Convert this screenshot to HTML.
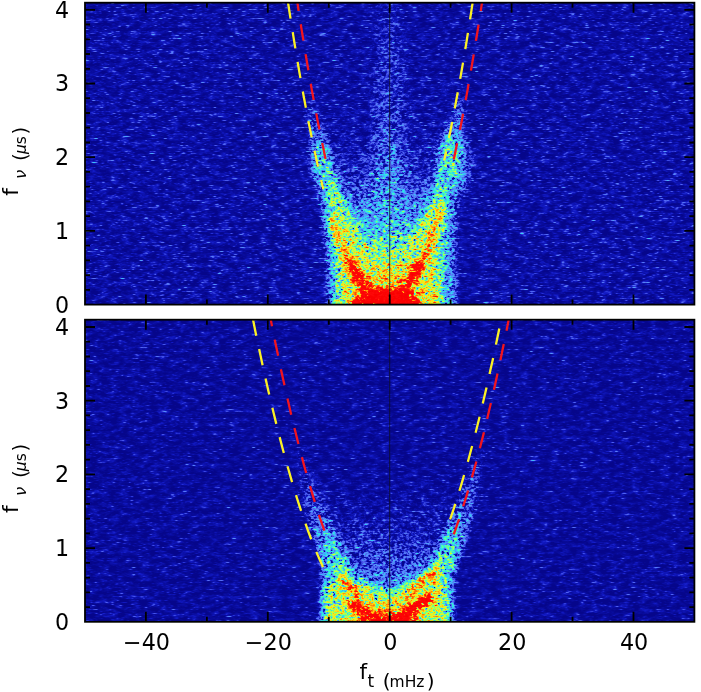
<!DOCTYPE html>
<html lang="en"><head><meta charset="utf-8"><title>Secondary spectra</title>
<style>html,body{margin:0;padding:0;background:#fff}svg{display:block}text{font-family:"DejaVu Sans", "Liberation Sans", sans-serif;fill:#000}</style></head><body>
<svg width="701" height="692" viewBox="0 0 701 692">
<defs>
<clipPath id="c1"><rect x="85.0" y="2.7" width="609.4" height="301.9"/></clipPath>
<clipPath id="c2"><rect x="85.0" y="319.7" width="609.4" height="302.1"/></clipPath>
<filter id="h1" filterUnits="userSpaceOnUse" x="85.0" y="2.7" width="609.4" height="301.9" color-interpolation-filters="sRGB">
<feTurbulence type="fractalNoise" baseFrequency="0.42 0.55" numOctaves="2" seed="7" result="t"/>
<feTurbulence type="fractalNoise" baseFrequency="0.1 0.22" numOctaves="3" seed="47" result="tl"/>
<feTurbulence type="fractalNoise" baseFrequency="0.36 0.63" numOctaves="2" seed="18" result="t2"/>
<feColorMatrix in="t" type="matrix" values="1 0 0 0 0  1 0 0 0 0  1 0 0 0 0  0 0 0 0 1" result="ns0a"/>
<feColorMatrix in="t2" type="matrix" values="1 0 0 0 0  1 0 0 0 0  1 0 0 0 0  0 0 0 0 1" result="ns0b"/>
<feComposite in="ns0a" in2="ns0b" operator="arithmetic" k1="0" k2="0.5" k3="0.5" k4="0" result="ns0"/>
<feGaussianBlur in="ns0" stdDeviation="0.8 0.8" result="tb0"/>
<feComposite in="tb0" in2="ns0" operator="arithmetic" k1="0" k2="0.7" k3="0.3" k4="0" result="tb"/>
<feColorMatrix in="tb" type="matrix" values="3.17 0 0 0 -1.085  3.17 0 0 0 -1.085  3.17 0 0 0 -1.085  0 0 0 0 1" result="ns"/>
<feComponentTransfer in="ns" result="nw2"><feFuncR type="table" tableValues="0.000 0.000 0.000 0.000 0.000 0.000 0.000 0.057 0.132 0.201 0.266 0.326 0.382 0.433 0.481 0.525 0.566 0.604 0.638 0.670 0.700 0.728 0.753 0.777 0.799 0.820 0.839 0.858 0.875 0.891 0.907 0.922 0.935 0.949 0.961 0.973 0.985 0.996 1.000 1.000 1.000"/><feFuncG type="table" tableValues="0.000 0.000 0.000 0.000 0.000 0.000 0.000 0.057 0.132 0.201 0.266 0.326 0.382 0.433 0.481 0.525 0.566 0.604 0.638 0.670 0.700 0.728 0.753 0.777 0.799 0.820 0.839 0.858 0.875 0.891 0.907 0.922 0.935 0.949 0.961 0.973 0.985 0.996 1.000 1.000 1.000"/><feFuncB type="table" tableValues="0.000 0.000 0.000 0.000 0.000 0.000 0.000 0.057 0.132 0.201 0.266 0.326 0.382 0.433 0.481 0.525 0.566 0.604 0.638 0.670 0.700 0.728 0.753 0.777 0.799 0.820 0.839 0.858 0.875 0.891 0.907 0.922 0.935 0.949 0.961 0.973 0.985 0.996 1.000 1.000 1.000"/></feComponentTransfer>
<feComponentTransfer in="SourceGraphic" result="A"><feFuncR type="table" tableValues="0.15 0.85 1 1 1 1 1 1 1"/><feFuncG type="table" tableValues="0.15 0.85 1 1 1 1 1 1 1"/><feFuncB type="table" tableValues="0.15 0.85 1 1 1 1 1 1 1"/></feComponentTransfer>
<feComposite in="nw2" in2="A" operator="arithmetic" k1="0.62" k2="0" k3="-0.434" k4="0.5" result="f"/>
<feColorMatrix in="t" type="matrix" values="0 1 0 0 0  0 1 0 0 0  0 1 0 0 0  0 0 0 0 1" result="ng"/>
<feGaussianBlur in="ng" stdDeviation="1.1 0.4" result="ngb"/>
<feColorMatrix in="ngb" type="matrix" values="2.2 0 0 0 -0.6  2.2 0 0 0 -0.6  2.2 0 0 0 -0.6  0 0 0 0 1" result="ngs"/>
<feComponentTransfer in="ngs" result="st"><feFuncR type="table" tableValues="0 0 0 0 0 0 0.05 0.2 0.45 0.72 1"/><feFuncG type="table" tableValues="0 0 0 0 0 0 0.05 0.2 0.45 0.72 1"/><feFuncB type="table" tableValues="0 0 0 0 0 0 0.05 0.2 0.45 0.72 1"/></feComponentTransfer>
<feColorMatrix in="t" type="matrix" values="0 0 1 0 0  0 0 1 0 0  0 0 1 0 0  0 0 0 0 1" result="nb"/>
<feComponentTransfer in="nb" result="sp"><feFuncR type="table" tableValues="0 0 0 0 0 0 0.02 0.2 0.6 1 1"/><feFuncG type="table" tableValues="0 0 0 0 0 0 0.02 0.2 0.6 1 1"/><feFuncB type="table" tableValues="0 0 0 0 0 0 0.02 0.2 0.6 1 1"/></feComponentTransfer>
<feGaussianBlur in="sp" stdDeviation="0.8 0.35" result="sp2"/>
<feColorMatrix in="tl" type="matrix" values="1 0 0 0 0  1 0 0 0 0  1 0 0 0 0  0 0 0 0 1" result="nl"/>
<feComposite in="SourceGraphic" in2="f" operator="arithmetic" k1="0" k2="1.25" k3="1" k4="-0.55" result="v1"/>
<feComposite in="v1" in2="st" operator="arithmetic" k1="0" k2="1" k3="0.13" k4="0" result="v2"/>
<feComposite in="v2" in2="sp2" operator="arithmetic" k1="0" k2="1" k3="0.42" k4="0" result="v3"/>
<feComposite in="v3" in2="nl" operator="arithmetic" k1="0" k2="1" k3="0.24" k4="-0.09" result="v"/>
<feComponentTransfer in="v"><feFuncR type="table" tableValues="0.024 0.031 0.039 0.055 0.071 0.157 0.244 0.315 0.322 0.329 0.308 0.245 0.182 0.176 0.209 0.258 0.373 0.487 0.621 0.760 0.869 0.935 1.000 1.000 1.000 1.000 1.000 1.000 1.000 1.000 1.000 0.998 0.996 0.994 0.992 0.990 0.988 0.986 0.984 0.982 0.980"/><feFuncG type="table" tableValues="0.027 0.039 0.051 0.076 0.102 0.199 0.295 0.388 0.465 0.542 0.625 0.716 0.807 0.877 0.935 0.982 0.990 0.998 1.000 1.000 0.980 0.931 0.882 0.777 0.672 0.563 0.437 0.311 0.203 0.121 0.039 0.035 0.031 0.027 0.024 0.020 0.016 0.012 0.008 0.004 0.000"/><feFuncB type="table" tableValues="0.549 0.588 0.627 0.698 0.769 0.830 0.892 0.944 0.958 0.972 0.980 0.980 0.980 0.931 0.850 0.758 0.627 0.497 0.379 0.265 0.176 0.127 0.078 0.064 0.050 0.039 0.039 0.039 0.039 0.039 0.039 0.035 0.031 0.027 0.024 0.020 0.016 0.012 0.008 0.004 0.000"/><feFuncA type="linear" slope="0" intercept="1"/></feComponentTransfer>
</filter><filter id="h2" filterUnits="userSpaceOnUse" x="85.0" y="319.7" width="609.4" height="302.1" color-interpolation-filters="sRGB">
<feTurbulence type="fractalNoise" baseFrequency="0.42 0.55" numOctaves="2" seed="23" result="t"/>
<feTurbulence type="fractalNoise" baseFrequency="0.1 0.22" numOctaves="3" seed="63" result="tl"/>
<feTurbulence type="fractalNoise" baseFrequency="0.36 0.63" numOctaves="2" seed="34" result="t2"/>
<feColorMatrix in="t" type="matrix" values="1 0 0 0 0  1 0 0 0 0  1 0 0 0 0  0 0 0 0 1" result="ns0a"/>
<feColorMatrix in="t2" type="matrix" values="1 0 0 0 0  1 0 0 0 0  1 0 0 0 0  0 0 0 0 1" result="ns0b"/>
<feComposite in="ns0a" in2="ns0b" operator="arithmetic" k1="0" k2="0.5" k3="0.5" k4="0" result="ns0"/>
<feGaussianBlur in="ns0" stdDeviation="0.8 0.8" result="tb0"/>
<feComposite in="tb0" in2="ns0" operator="arithmetic" k1="0" k2="0.7" k3="0.3" k4="0" result="tb"/>
<feColorMatrix in="tb" type="matrix" values="3.17 0 0 0 -1.085  3.17 0 0 0 -1.085  3.17 0 0 0 -1.085  0 0 0 0 1" result="ns"/>
<feComponentTransfer in="ns" result="nw2"><feFuncR type="table" tableValues="0.000 0.000 0.000 0.000 0.000 0.000 0.000 0.057 0.132 0.201 0.266 0.326 0.382 0.433 0.481 0.525 0.566 0.604 0.638 0.670 0.700 0.728 0.753 0.777 0.799 0.820 0.839 0.858 0.875 0.891 0.907 0.922 0.935 0.949 0.961 0.973 0.985 0.996 1.000 1.000 1.000"/><feFuncG type="table" tableValues="0.000 0.000 0.000 0.000 0.000 0.000 0.000 0.057 0.132 0.201 0.266 0.326 0.382 0.433 0.481 0.525 0.566 0.604 0.638 0.670 0.700 0.728 0.753 0.777 0.799 0.820 0.839 0.858 0.875 0.891 0.907 0.922 0.935 0.949 0.961 0.973 0.985 0.996 1.000 1.000 1.000"/><feFuncB type="table" tableValues="0.000 0.000 0.000 0.000 0.000 0.000 0.000 0.057 0.132 0.201 0.266 0.326 0.382 0.433 0.481 0.525 0.566 0.604 0.638 0.670 0.700 0.728 0.753 0.777 0.799 0.820 0.839 0.858 0.875 0.891 0.907 0.922 0.935 0.949 0.961 0.973 0.985 0.996 1.000 1.000 1.000"/></feComponentTransfer>
<feComponentTransfer in="SourceGraphic" result="A"><feFuncR type="table" tableValues="0.15 0.85 1 1 1 1 1 1 1"/><feFuncG type="table" tableValues="0.15 0.85 1 1 1 1 1 1 1"/><feFuncB type="table" tableValues="0.15 0.85 1 1 1 1 1 1 1"/></feComponentTransfer>
<feComposite in="nw2" in2="A" operator="arithmetic" k1="0.62" k2="0" k3="-0.434" k4="0.5" result="f"/>
<feColorMatrix in="t" type="matrix" values="0 1 0 0 0  0 1 0 0 0  0 1 0 0 0  0 0 0 0 1" result="ng"/>
<feGaussianBlur in="ng" stdDeviation="1.1 0.4" result="ngb"/>
<feColorMatrix in="ngb" type="matrix" values="2.2 0 0 0 -0.6  2.2 0 0 0 -0.6  2.2 0 0 0 -0.6  0 0 0 0 1" result="ngs"/>
<feComponentTransfer in="ngs" result="st"><feFuncR type="table" tableValues="0 0 0 0 0 0 0.05 0.2 0.45 0.72 1"/><feFuncG type="table" tableValues="0 0 0 0 0 0 0.05 0.2 0.45 0.72 1"/><feFuncB type="table" tableValues="0 0 0 0 0 0 0.05 0.2 0.45 0.72 1"/></feComponentTransfer>
<feColorMatrix in="t" type="matrix" values="0 0 1 0 0  0 0 1 0 0  0 0 1 0 0  0 0 0 0 1" result="nb"/>
<feComponentTransfer in="nb" result="sp"><feFuncR type="table" tableValues="0 0 0 0 0 0 0.02 0.2 0.6 1 1"/><feFuncG type="table" tableValues="0 0 0 0 0 0 0.02 0.2 0.6 1 1"/><feFuncB type="table" tableValues="0 0 0 0 0 0 0.02 0.2 0.6 1 1"/></feComponentTransfer>
<feGaussianBlur in="sp" stdDeviation="0.8 0.35" result="sp2"/>
<feColorMatrix in="tl" type="matrix" values="1 0 0 0 0  1 0 0 0 0  1 0 0 0 0  0 0 0 0 1" result="nl"/>
<feComposite in="SourceGraphic" in2="f" operator="arithmetic" k1="0" k2="1.25" k3="1" k4="-0.55" result="v1"/>
<feComposite in="v1" in2="st" operator="arithmetic" k1="0" k2="1" k3="0.09" k4="0" result="v2"/>
<feComposite in="v2" in2="sp2" operator="arithmetic" k1="0" k2="1" k3="0.34" k4="0" result="v3"/>
<feComposite in="v3" in2="nl" operator="arithmetic" k1="0" k2="1" k3="0.24" k4="-0.1" result="v"/>
<feComponentTransfer in="v"><feFuncR type="table" tableValues="0.024 0.031 0.039 0.055 0.071 0.157 0.244 0.315 0.322 0.329 0.308 0.245 0.182 0.176 0.209 0.258 0.373 0.487 0.621 0.760 0.869 0.935 1.000 1.000 1.000 1.000 1.000 1.000 1.000 1.000 1.000 0.998 0.996 0.994 0.992 0.990 0.988 0.986 0.984 0.982 0.980"/><feFuncG type="table" tableValues="0.027 0.039 0.051 0.076 0.102 0.199 0.295 0.388 0.465 0.542 0.625 0.716 0.807 0.877 0.935 0.982 0.990 0.998 1.000 1.000 0.980 0.931 0.882 0.777 0.672 0.563 0.437 0.311 0.203 0.121 0.039 0.035 0.031 0.027 0.024 0.020 0.016 0.012 0.008 0.004 0.000"/><feFuncB type="table" tableValues="0.549 0.588 0.627 0.698 0.769 0.830 0.892 0.944 0.958 0.972 0.980 0.980 0.980 0.931 0.850 0.758 0.627 0.497 0.379 0.265 0.176 0.127 0.078 0.064 0.050 0.039 0.039 0.039 0.039 0.039 0.039 0.035 0.031 0.027 0.024 0.020 0.016 0.012 0.008 0.004 0.000"/><feFuncA type="linear" slope="0" intercept="1"/></feComponentTransfer>
</filter><filter id="b2_5" filterUnits="userSpaceOnUse" x="0" y="-40" width="701" height="780" color-interpolation-filters="sRGB"><feGaussianBlur stdDeviation="2.5"/></filter><filter id="b3" filterUnits="userSpaceOnUse" x="0" y="-40" width="701" height="780" color-interpolation-filters="sRGB"><feGaussianBlur stdDeviation="3"/></filter><filter id="b3_5" filterUnits="userSpaceOnUse" x="0" y="-40" width="701" height="780" color-interpolation-filters="sRGB"><feGaussianBlur stdDeviation="3.5"/></filter><filter id="b4" filterUnits="userSpaceOnUse" x="0" y="-40" width="701" height="780" color-interpolation-filters="sRGB"><feGaussianBlur stdDeviation="4"/></filter><filter id="b5" filterUnits="userSpaceOnUse" x="0" y="-40" width="701" height="780" color-interpolation-filters="sRGB"><feGaussianBlur stdDeviation="5"/></filter><filter id="b6" filterUnits="userSpaceOnUse" x="0" y="-40" width="701" height="780" color-interpolation-filters="sRGB"><feGaussianBlur stdDeviation="6"/></filter><filter id="b7" filterUnits="userSpaceOnUse" x="0" y="-40" width="701" height="780" color-interpolation-filters="sRGB"><feGaussianBlur stdDeviation="7"/></filter><filter id="b8" filterUnits="userSpaceOnUse" x="0" y="-40" width="701" height="780" color-interpolation-filters="sRGB"><feGaussianBlur stdDeviation="8"/></filter><filter id="b9" filterUnits="userSpaceOnUse" x="0" y="-40" width="701" height="780" color-interpolation-filters="sRGB"><feGaussianBlur stdDeviation="9"/></filter><linearGradient id="g1" gradientUnits="userSpaceOnUse" x1="0" y1="0.0" x2="0" y2="304.0"><stop offset="0.000" stop-color="#0f0f0f"/><stop offset="0.493" stop-color="#161616"/><stop offset="1.000" stop-color="#232323"/></linearGradient><linearGradient id="g2" gradientUnits="userSpaceOnUse" x1="0" y1="0.0" x2="0" y2="304.0"><stop offset="0.000" stop-color="#000000" stop-opacity="0.00"/><stop offset="0.296" stop-color="#060606" stop-opacity="0.30"/><stop offset="0.493" stop-color="#272727"/><stop offset="1.000" stop-color="#333333"/></linearGradient><linearGradient id="g3" gradientUnits="userSpaceOnUse" x1="0" y1="150.0" x2="0" y2="310.0"><stop offset="0.000" stop-color="#1f1f1f" stop-opacity="0.00"/><stop offset="0.188" stop-color="#2f2f2f"/><stop offset="1.000" stop-color="#333333"/></linearGradient><linearGradient id="g4" gradientUnits="userSpaceOnUse" x1="0" y1="140.0" x2="0" y2="310.0"><stop offset="0.000" stop-color="#1f1f1f" stop-opacity="0.00"/><stop offset="0.176" stop-color="#313131"/><stop offset="1.000" stop-color="#333333"/></linearGradient><linearGradient id="g5" gradientUnits="userSpaceOnUse" x1="0" y1="0.0" x2="0" y2="304.0"><stop offset="0.000" stop-color="#040404"/><stop offset="0.164" stop-color="#060606"/><stop offset="0.296" stop-color="#090909"/><stop offset="0.395" stop-color="#101010"/><stop offset="0.477" stop-color="#3d3d3d"/><stop offset="0.592" stop-color="#545454"/><stop offset="0.724" stop-color="#5c5c5c"/><stop offset="0.855" stop-color="#626262"/><stop offset="1.000" stop-color="#646464"/></linearGradient><linearGradient id="g6" gradientUnits="userSpaceOnUse" x1="0" y1="0.0" x2="0" y2="276.0"><stop offset="0.000" stop-color="#040404"/><stop offset="0.181" stop-color="#060606"/><stop offset="0.326" stop-color="#080808"/><stop offset="0.471" stop-color="#0a0a0a"/><stop offset="0.652" stop-color="#161616"/><stop offset="0.797" stop-color="#333333"/><stop offset="0.906" stop-color="#545454"/><stop offset="1.000" stop-color="#707070"/></linearGradient><linearGradient id="g7" gradientUnits="userSpaceOnUse" x1="0" y1="0.0" x2="0" y2="240.0"><stop offset="0.000" stop-color="#131313"/><stop offset="0.542" stop-color="#212121"/><stop offset="0.833" stop-color="#373737"/><stop offset="1.000" stop-color="#474747" stop-opacity="0.00"/></linearGradient><linearGradient id="g8" gradientUnits="userSpaceOnUse" x1="0" y1="76.1" x2="0" y2="157.2"><stop offset="0.000" stop-color="#0a0a0a" stop-opacity="0.00"/><stop offset="0.455" stop-color="#1b1b1b"/><stop offset="1.000" stop-color="#3b3b3b"/></linearGradient><linearGradient id="g9" gradientUnits="userSpaceOnUse" x1="0" y1="68.8" x2="0" y2="149.8"><stop offset="0.000" stop-color="#0a0a0a" stop-opacity="0.00"/><stop offset="0.455" stop-color="#1d1d1d"/><stop offset="1.000" stop-color="#414141"/></linearGradient><linearGradient id="g10" gradientUnits="userSpaceOnUse" x1="0" y1="219.0" x2="0" y2="293.0"><stop offset="0.000" stop-color="#787878"/><stop offset="0.554" stop-color="#858585"/><stop offset="1.000" stop-color="#959595"/></linearGradient><linearGradient id="g11" gradientUnits="userSpaceOnUse" x1="0" y1="209.0" x2="0" y2="274.0"><stop offset="0.000" stop-color="#787878"/><stop offset="1.000" stop-color="#919191"/></linearGradient><linearGradient id="g12" gradientUnits="userSpaceOnUse" x1="0" y1="319.0" x2="0" y2="621.0"><stop offset="0.000" stop-color="#000000" stop-opacity="0.00"/><stop offset="0.434" stop-color="#060606" stop-opacity="0.30"/><stop offset="0.699" stop-color="#141414"/><stop offset="0.864" stop-color="#1f1f1f"/><stop offset="1.000" stop-color="#2f2f2f"/></linearGradient><linearGradient id="g13" gradientUnits="userSpaceOnUse" x1="0" y1="319.0" x2="0" y2="621.0"><stop offset="0.000" stop-color="#030303"/><stop offset="0.268" stop-color="#040404"/><stop offset="0.500" stop-color="#060606"/><stop offset="0.666" stop-color="#101010"/><stop offset="0.798" stop-color="#1f1f1f"/><stop offset="0.864" stop-color="#2b2b2b"/><stop offset="0.921" stop-color="#414141"/><stop offset="1.000" stop-color="#5c5c5c"/></linearGradient><linearGradient id="g14" gradientUnits="userSpaceOnUse" x1="0" y1="415.4" x2="0" y2="576.1"><stop offset="0.000" stop-color="#0a0a0a" stop-opacity="0.00"/><stop offset="0.367" stop-color="#141414"/><stop offset="0.596" stop-color="#212121"/><stop offset="0.734" stop-color="#2d2d2d"/><stop offset="0.872" stop-color="#3d3d3d"/><stop offset="1.000" stop-color="#545454"/></linearGradient><linearGradient id="g15" gradientUnits="userSpaceOnUse" x1="0" y1="408.1" x2="0" y2="570.2"><stop offset="0.000" stop-color="#0a0a0a" stop-opacity="0.00"/><stop offset="0.364" stop-color="#141414"/><stop offset="0.591" stop-color="#212121"/><stop offset="0.727" stop-color="#2d2d2d"/><stop offset="0.909" stop-color="#414141"/><stop offset="1.000" stop-color="#585858"/></linearGradient><linearGradient id="g16" gradientUnits="userSpaceOnUse" x1="0" y1="515.0" x2="0" y2="571.0"><stop offset="0.000" stop-color="#474747" stop-opacity="0.00"/><stop offset="0.536" stop-color="#474747"/><stop offset="1.000" stop-color="#5c5c5c"/></linearGradient><linearGradient id="g17" gradientUnits="userSpaceOnUse" x1="0" y1="512.0" x2="0" y2="567.0"><stop offset="0.000" stop-color="#474747" stop-opacity="0.00"/><stop offset="0.545" stop-color="#4b4b4b"/><stop offset="1.000" stop-color="#606060"/></linearGradient>
</defs>
<rect width="701" height="692" fill="#fff"/>
<g filter="url(#h1)"><rect x="80.0" y="-2.3" width="619.4" height="311.9" fill="#000000"/>
<path d="M373.0 -10.0 L405.0 -10.0 L407.0 320.0 L370.0 320.0Z" fill="url(#g1)" filter="url(#b8)" />
<path d="M289.2 -19.7 L290.8 -8.5 L292.5 2.4 L294.1 13.1 L295.8 23.7 L297.5 34.0 L299.1 44.2 L300.8 54.2 L302.4 63.9 L304.1 73.5 L305.7 82.9 L307.4 92.1 L309.1 101.1 L310.7 109.9 L312.4 118.5 L314.0 126.9 L315.7 135.1 L317.3 143.1 L319.0 151.0 L320.6 158.6 L322.3 166.0 L329.0 212.0 L334.0 255.0 L337.0 320.0 L444.0 320.0 L442.0 271.0 L443.0 235.0 L445.0 200.0 L448.9 164.6 L450.5 157.2 L452.2 149.6 L453.8 141.8 L455.5 133.8 L457.1 125.7 L458.7 117.3 L460.4 108.8 L462.0 100.0 L463.7 91.1 L465.3 82.0 L466.9 72.7 L468.6 63.2 L470.2 53.5 L471.9 43.6 L473.5 33.5 L475.1 23.3 L476.8 12.8 L478.4 2.2 L480.1 -8.7 L481.7 -19.7Z" fill="url(#g2)" filter="url(#b9)" />
<ellipse cx="460.0" cy="165.0" rx="13.0" ry="30.0" fill="#252525" filter="url(#b6)" />
<path d="M318.0 150.0 L321.0 170.0 L327.0 212.0 L332.0 255.0 L335.0 310.0" fill="none" stroke="url(#g3)" stroke-width="10.0" stroke-linecap="round" stroke-linejoin="round" filter="url(#b4)" />
<path d="M458.0 150.0 L454.0 170.0 L449.0 200.0 L447.0 235.0 L446.0 271.0 L448.0 310.0" fill="none" stroke="url(#g4)" stroke-width="18.0" stroke-linecap="round" stroke-linejoin="round" filter="url(#b5)" />
<path d="M289.2 -19.7 L290.8 -8.5 L292.5 2.4 L294.1 13.1 L295.8 23.7 L297.5 34.0 L299.1 44.2 L300.8 54.2 L302.4 63.9 L304.1 73.5 L305.7 82.9 L307.4 92.1 L309.1 101.1 L310.7 109.9 L312.4 118.5 L314.0 126.9 L315.7 135.1 L317.3 143.1 L319.0 151.0 L320.6 158.6 L322.3 166.0 L329.0 212.0 L334.0 255.0 L337.0 320.0 L444.0 320.0 L442.0 271.0 L443.0 235.0 L445.0 200.0 L448.9 164.6 L450.5 157.2 L452.2 149.6 L453.8 141.8 L455.5 133.8 L457.1 125.7 L458.7 117.3 L460.4 108.8 L462.0 100.0 L463.7 91.1 L465.3 82.0 L466.9 72.7 L468.6 63.2 L470.2 53.5 L471.9 43.6 L473.5 33.5 L475.1 23.3 L476.8 12.8 L478.4 2.2 L480.1 -8.7 L481.7 -19.7Z" fill="url(#g5)" filter="url(#b4)" />
<path d="M297.7 -19.7 L299.0 -11.0 L300.3 -2.5 L301.6 6.0 L302.9 14.3 L304.1 22.5 L305.4 30.6 L306.7 38.5 L308.0 46.4 L309.3 54.1 L310.6 61.7 L311.9 69.2 L313.2 76.6 L314.4 83.9 L315.7 91.0 L317.0 98.0 L318.3 104.9 L319.6 111.7 L320.9 118.4 L322.2 125.0 L323.5 131.4 L340.0 190.0 L362.0 235.0 L384.0 276.0 L394.0 276.0 L412.0 235.0 L434.0 190.0 L446.8 131.4 L448.1 125.0 L449.4 118.4 L450.7 111.7 L452.0 104.9 L453.2 98.0 L454.5 91.0 L455.8 83.9 L457.1 76.6 L458.4 69.2 L459.7 61.7 L461.0 54.1 L462.3 46.4 L463.5 38.5 L464.8 30.6 L466.1 22.5 L467.4 14.3 L468.7 6.0 L470.0 -2.5 L471.3 -11.0 L472.6 -19.7Z" fill="url(#g6)" filter="url(#b4)" />
<path d="M375.0 -10.0 L403.0 -10.0 L405.0 240.0 L372.0 240.0Z" fill="url(#g7)" filter="url(#b7)" opacity="0.85"/>
<path d="M303.3 76.1 L304.1 80.6 L304.9 85.0 L305.7 89.4 L306.5 93.8 L307.3 98.1 L308.1 102.3 L308.8 106.5 L309.6 110.7 L310.4 114.8 L311.2 118.9 L312.0 122.9 L312.8 126.9 L313.6 130.8 L314.4 134.7 L315.2 138.6 L316.0 142.4 L316.7 146.2 L317.5 149.9 L318.3 153.6 L319.1 157.2" fill="none" stroke="url(#g8)" stroke-width="9.0" stroke-linecap="round" stroke-linejoin="round" filter="url(#b4)" />
<path d="M467.6 68.8 L466.8 73.2 L466.1 77.6 L465.3 82.0 L464.5 86.3 L463.7 90.6 L463.0 94.9 L462.2 99.1 L461.4 103.2 L460.6 107.3 L459.9 111.4 L459.1 115.5 L458.3 119.4 L457.5 123.4 L456.8 127.3 L456.0 131.2 L455.2 135.0 L454.4 138.8 L453.7 142.5 L452.9 146.2 L452.1 149.8" fill="none" stroke="url(#g9)" stroke-width="11.0" stroke-linecap="round" stroke-linejoin="round" filter="url(#b4)" />
<ellipse cx="451.0" cy="156.0" rx="8.0" ry="24.0" fill="#4e4e4e" filter="url(#b6)" />
<ellipse cx="318.0" cy="164.0" rx="6.0" ry="17.0" fill="#454545" filter="url(#b6)" />
<ellipse cx="388.0" cy="302.0" rx="40.0" ry="32.0" fill="#747474" filter="url(#b7)" />
<path d="M331.0 219.0 L341.8 245.0 L351.0 266.5 L364.4 292.7" fill="none" stroke="url(#g10)" stroke-width="7.0" stroke-linecap="round" stroke-linejoin="round" filter="url(#b2_5)" />
<path d="M442.0 209.0 L431.0 235.0 L425.0 259.0 L416.0 274.0" fill="none" stroke="url(#g11)" stroke-width="7.0" stroke-linecap="round" stroke-linejoin="round" filter="url(#b2_5)" />
<path d="M351.0 264.0 L374.0 298.0" fill="none" stroke="#a9a9a9" stroke-width="8.0" stroke-linecap="round" stroke-linejoin="round" filter="url(#b3)" />
<path d="M418.0 266.0 L401.0 298.0" fill="none" stroke="#a9a9a9" stroke-width="10.0" stroke-linecap="round" stroke-linejoin="round" filter="url(#b3)" />
<ellipse cx="387.0" cy="308.0" rx="34.0" ry="18.0" fill="#c6c6c6" filter="url(#b4)" /></g>
<g filter="url(#h2)"><rect x="80.0" y="314.7" width="619.4" height="312.1" fill="#000000"/>
<path d="M253.1 297.5 L256.9 317.5 L260.8 336.8 L264.6 355.4 L268.5 373.5 L272.3 390.9 L276.2 407.7 L280.0 423.8 L283.9 439.3 L287.7 454.2 L291.5 468.4 L295.4 482.1 L299.2 495.0 L303.1 507.4 L306.9 519.1 L310.8 530.2 L314.6 540.6 L318.5 550.4 L322.3 559.6 L326.2 568.2 L330.0 576.1 L326.0 592.0 L327.0 640.0 L449.0 640.0 L448.0 588.0 L446.2 570.2 L449.9 562.1 L453.6 553.5 L457.3 544.2 L461.0 534.4 L464.7 524.0 L468.4 513.0 L472.1 501.4 L475.8 489.3 L479.5 476.5 L483.2 463.2 L486.9 449.2 L490.6 434.7 L494.3 419.6 L498.0 403.9 L501.7 387.7 L505.4 370.8 L509.1 353.4 L512.8 335.3 L516.5 316.7 L520.2 297.5Z" fill="url(#g12)" filter="url(#b9)" />
<path d="M253.1 297.5 L256.9 317.5 L260.8 336.8 L264.6 355.4 L268.5 373.5 L272.3 390.9 L276.2 407.7 L280.0 423.8 L283.9 439.3 L287.7 454.2 L291.5 468.4 L295.4 482.1 L299.2 495.0 L303.1 507.4 L306.9 519.1 L310.8 530.2 L314.6 540.6 L318.5 550.4 L322.3 559.6 L326.2 568.2 L330.0 576.1 L326.0 592.0 L327.0 640.0 L449.0 640.0 L448.0 588.0 L446.2 570.2 L449.9 562.1 L453.6 553.5 L457.3 544.2 L461.0 534.4 L464.7 524.0 L468.4 513.0 L472.1 501.4 L475.8 489.3 L479.5 476.5 L483.2 463.2 L486.9 449.2 L490.6 434.7 L494.3 419.6 L498.0 403.9 L501.7 387.7 L505.4 370.8 L509.1 353.4 L512.8 335.3 L516.5 316.7 L520.2 297.5Z" fill="url(#g13)" filter="url(#b3_5)" />
<path d="M327.0 566.0 L326.0 590.0 L327.0 630.0" fill="none" stroke="#333333" stroke-width="10.0" stroke-linecap="round" stroke-linejoin="round" filter="url(#b4)" />
<path d="M448.0 560.0 L447.0 590.0 L447.0 630.0" fill="none" stroke="#333333" stroke-width="12.0" stroke-linecap="round" stroke-linejoin="round" filter="url(#b4)" />
<path d="M285.9 415.4 L287.1 422.1 L288.3 428.8 L289.6 435.5 L290.9 442.2 L292.2 448.9 L293.6 455.6 L294.9 462.3 L296.4 469.0 L297.8 475.7 L299.4 482.4 L300.9 489.1 L302.5 495.8 L304.2 502.5 L305.9 509.2 L307.7 515.9 L309.5 522.6 L311.5 529.2 L313.5 535.9 L315.6 542.6 L317.8 549.3 L320.2 556.0 L322.7 562.7 L325.3 569.4 L328.2 576.1 L356.2 576.1 L352.6 569.4 L349.1 562.7 L345.8 556.0 L342.6 549.3 L339.6 542.6 L336.6 535.9 L333.8 529.2 L331.1 522.6 L328.4 515.9 L325.8 509.2 L323.3 502.5 L320.8 495.8 L318.4 489.1 L316.0 482.4 L313.7 475.7 L311.4 469.0 L309.2 462.3 L307.0 455.6 L304.8 448.9 L302.7 442.2 L300.6 435.5 L298.5 428.8 L296.5 422.1 L294.4 415.4Z" fill="url(#g14)" filter="url(#b3_5)" />
<path d="M495.8 408.1 L494.7 414.8 L493.4 421.6 L492.2 428.3 L490.9 435.1 L489.6 441.8 L488.3 448.6 L486.9 455.4 L485.5 462.1 L484.1 468.9 L482.6 475.6 L481.1 482.4 L479.5 489.1 L477.9 495.9 L476.2 502.7 L474.4 509.4 L472.6 516.2 L470.7 522.9 L468.8 529.7 L466.7 536.4 L464.6 543.2 L462.3 549.9 L459.9 556.7 L457.4 563.5 L454.7 570.2 L426.7 570.2 L430.2 563.5 L433.5 556.7 L436.7 549.9 L439.8 543.2 L442.8 536.4 L445.6 529.7 L448.4 522.9 L451.1 516.2 L453.7 509.4 L456.3 502.7 L458.8 495.9 L461.2 489.1 L463.6 482.4 L465.9 475.6 L468.2 468.9 L470.5 462.1 L472.7 455.4 L474.9 448.6 L477.0 441.8 L479.1 435.1 L481.2 428.3 L483.3 421.6 L485.3 414.8 L487.3 408.1Z" fill="url(#g15)" filter="url(#b3_5)" />
<path d="M321.0 515.0 L327.0 532.0 L333.0 551.0 L341.0 571.0" fill="none" stroke="url(#g16)" stroke-width="6.0" stroke-linecap="round" stroke-linejoin="round" filter="url(#b3)" />
<path d="M461.0 512.0 L454.0 530.0 L447.0 550.0 L441.0 567.0" fill="none" stroke="url(#g17)" stroke-width="7.0" stroke-linecap="round" stroke-linejoin="round" filter="url(#b3)" />
<path d="M326.0 588.0 L330.0 578.0 L352.0 577.0 L390.0 594.0 L424.0 572.0 L444.0 572.0 L448.0 586.0 L449.0 640.0 L323.0 640.0Z" fill="#646464" filter="url(#b4)" />
<path d="M342.0 579.0 L367.0 606.0" fill="none" stroke="#898989" stroke-width="7.0" stroke-linecap="round" stroke-linejoin="round" filter="url(#b2_5)" />
<path d="M437.0 572.0 L428.0 576.0 L415.0 590.0 L405.0 601.0" fill="none" stroke="#898989" stroke-width="7.0" stroke-linecap="round" stroke-linejoin="round" filter="url(#b2_5)" />
<ellipse cx="388.0" cy="615.0" rx="36.0" ry="11.0" fill="#7a7a7a" filter="url(#b5)" />
<path d="M351.0 604.0 L378.0 620.0" fill="none" stroke="#b6b6b6" stroke-width="7.0" stroke-linecap="round" stroke-linejoin="round" filter="url(#b2_5)" />
<path d="M429.0 598.0 L401.0 617.0" fill="none" stroke="#bababa" stroke-width="9.0" stroke-linecap="round" stroke-linejoin="round" filter="url(#b2_5)" />
<ellipse cx="388.0" cy="627.0" rx="34.0" ry="10.0" fill="#cacaca" filter="url(#b4)" /></g>
<path d="M389.7 2.7V304.6 M389.7 319.7V621.8" stroke="#101020" stroke-width="1" opacity=".8" fill="none"/>
<g id="arcs">
<path d="M297.4 2.4 L298.5 10.1 L299.7 17.7 L300.9 25.2 L302.1 32.6 L303.3 39.8 L304.5 47.0 L305.6 54.1 L306.8 61.1 L308.0 68.0 L309.2 74.8 L310.4 81.5 L311.5 88.1 L312.7 94.6 L313.9 101.0 L315.1 107.3 L316.3 113.5 L317.4 119.6 L318.6 125.6 L319.8 131.5 L321.0 137.3 L322.2 143.0 L323.4 148.6 L324.5 154.1 L325.7 159.5" fill="none" stroke="#f2141e" stroke-width="2.3" stroke-dasharray="16.5 13.65" stroke-dashoffset="8.0" clip-path="url(#c1)"/>
<path d="M482.0 2.4 L480.9 10.1 L479.7 17.7 L478.5 25.2 L477.3 32.6 L476.1 39.8 L474.9 47.0 L473.8 54.1 L472.6 61.1 L471.4 68.0 L470.2 74.8 L469.0 81.5 L467.9 88.1 L466.7 94.6 L465.5 101.0 L464.3 107.3 L463.1 113.5 L462.0 119.6 L460.8 125.6 L459.6 131.5 L458.4 137.3 L457.2 143.0 L456.0 148.6 L454.9 154.1 L453.7 159.5" fill="none" stroke="#f2141e" stroke-width="2.3" stroke-dasharray="16.5 13.65" stroke-dashoffset="7.7" clip-path="url(#c1)"/>
<path d="M288.0 2.4 L289.5 12.0 L291.0 21.4 L292.5 30.6 L293.9 39.7 L295.4 48.6 L296.9 57.4 L298.3 66.0 L299.8 74.5 L301.3 82.8 L302.7 91.0 L304.2 99.0 L305.7 106.9 L307.2 114.6 L308.6 122.2 L310.1 129.6 L311.6 136.8 L313.0 143.9 L314.5 150.8 L316.0 157.6 L317.5 164.3 L318.9 170.8 L320.4 177.1 L321.9 183.3 L323.3 189.3" fill="none" stroke="#fbf024" stroke-width="2.3" stroke-dasharray="16.5 13.65" stroke-dashoffset="0.1" clip-path="url(#c1)"/>
<path d="M472.7 2.4 L471.5 10.2 L470.3 17.8 L469.1 25.4 L467.9 32.8 L466.8 40.2 L465.6 47.4 L464.4 54.5 L463.2 61.6 L462.0 68.5 L460.8 75.4 L459.6 82.1 L458.4 88.7 L457.2 95.3 L456.0 101.7 L454.8 108.1 L453.6 114.3 L452.5 120.4 L451.3 126.5 L450.1 132.4 L448.9 138.2 L447.7 144.0 L446.5 149.6 L445.3 155.2 L444.1 160.6" fill="none" stroke="#fbf024" stroke-width="2.3" stroke-dasharray="16.5 13.65" stroke-dashoffset="29.5" clip-path="url(#c1)"/>
<path d="M270.7 319.6 L273.0 330.9 L275.2 342.0 L277.5 352.8 L279.7 363.4 L281.9 373.8 L284.2 384.0 L286.4 394.0 L288.7 403.8 L290.9 413.4 L293.1 422.7 L295.4 431.8 L297.6 440.7 L299.9 449.4 L302.1 457.9 L304.3 466.2 L306.6 474.3 L308.8 482.1 L311.1 489.7 L313.3 497.1 L315.5 504.3 L317.8 511.3 L320.0 518.1 L322.3 524.7 L324.5 531.0" fill="none" stroke="#f2141e" stroke-width="2.3" stroke-dasharray="16.5 13.65" stroke-dashoffset="9.7" clip-path="url(#c2)"/>
<path d="M508.7 319.6 L506.4 331.2 L504.1 342.5 L501.8 353.5 L499.5 364.4 L497.2 375.0 L494.9 385.4 L492.6 395.6 L490.3 405.5 L488.0 415.3 L485.8 424.8 L483.5 434.1 L481.2 443.1 L478.9 452.0 L476.6 460.6 L474.3 469.0 L472.0 477.1 L469.7 485.1 L467.4 492.8 L465.1 500.3 L462.8 507.5 L460.6 514.6 L458.3 521.4 L456.0 528.0 L453.7 534.4" fill="none" stroke="#f2141e" stroke-width="2.3" stroke-dasharray="16.5 13.65" stroke-dashoffset="5.2" clip-path="url(#c2)"/>
<path d="M253.0 319.6 L255.9 333.9 L258.9 347.9 L261.8 361.5 L264.7 374.7 L267.6 387.6 L270.5 400.2 L273.5 412.4 L276.4 424.3 L279.3 435.8 L282.2 447.0 L285.1 457.8 L288.1 468.3 L291.0 478.4 L293.9 488.2 L296.8 497.6 L299.7 506.7 L302.7 515.5 L305.6 523.9 L308.5 532.0 L311.4 539.7 L314.3 547.0 L317.3 554.1 L320.2 560.7 L323.1 567.1" fill="none" stroke="#fbf024" stroke-width="2.3" stroke-dasharray="16.5 13.65" stroke-dashoffset="0.1" clip-path="url(#c2)"/>
<path d="M501.1 319.6 L499.0 330.1 L496.8 340.4 L494.7 350.5 L492.6 360.4 L490.4 370.1 L488.3 379.7 L486.2 389.1 L484.0 398.2 L481.9 407.2 L479.8 416.0 L477.6 424.7 L475.5 433.1 L473.4 441.4 L471.2 449.4 L469.1 457.3 L467.0 465.0 L464.8 472.5 L462.7 479.9 L460.6 487.0 L458.4 494.0 L456.3 500.8 L454.2 507.4 L452.0 513.8 L449.9 520.0" fill="none" stroke="#fbf024" stroke-width="2.3" stroke-dasharray="16.5 13.65" stroke-dashoffset="21.1" clip-path="url(#c2)"/>
</g>
<g fill="none" stroke="#000" stroke-width="1.8">
<rect x="85.0" y="2.7" width="609.4" height="301.9"/>
<rect x="85.0" y="319.7" width="609.4" height="302.1"/>
<path d="M145.9 2.7v10 M145.9 304.6v-10"/>
<path d="M206.9 2.7v5 M206.9 304.6v-5"/>
<path d="M267.8 2.7v10 M267.8 304.6v-10"/>
<path d="M328.8 2.7v5 M328.8 304.6v-5"/>
<path d="M389.7 2.7v10 M389.7 304.6v-10"/>
<path d="M450.6 2.7v5 M450.6 304.6v-5"/>
<path d="M511.6 2.7v10 M511.6 304.6v-10"/>
<path d="M572.5 2.7v5 M572.5 304.6v-5"/>
<path d="M633.5 2.7v10 M633.5 304.6v-10"/>
<path d="M85.0 289.9h5 M694.4 289.9h-5"/>
<path d="M85.0 275.1h5 M694.4 275.1h-5"/>
<path d="M85.0 260.4h5 M694.4 260.4h-5"/>
<path d="M85.0 245.6h5 M694.4 245.6h-5"/>
<path d="M85.0 230.9h10 M694.4 230.9h-10"/>
<path d="M85.0 216.2h5 M694.4 216.2h-5"/>
<path d="M85.0 201.4h5 M694.4 201.4h-5"/>
<path d="M85.0 186.7h5 M694.4 186.7h-5"/>
<path d="M85.0 171.9h5 M694.4 171.9h-5"/>
<path d="M85.0 157.2h10 M694.4 157.2h-10"/>
<path d="M85.0 142.5h5 M694.4 142.5h-5"/>
<path d="M85.0 127.7h5 M694.4 127.7h-5"/>
<path d="M85.0 113.0h5 M694.4 113.0h-5"/>
<path d="M85.0 98.2h5 M694.4 98.2h-5"/>
<path d="M85.0 83.5h10 M694.4 83.5h-10"/>
<path d="M85.0 68.8h5 M694.4 68.8h-5"/>
<path d="M85.0 54.0h5 M694.4 54.0h-5"/>
<path d="M85.0 39.3h5 M694.4 39.3h-5"/>
<path d="M85.0 24.5h5 M694.4 24.5h-5"/>
<path d="M85.0 9.8h10 M694.4 9.8h-10"/>
<path d="M145.9 319.7v10 M145.9 621.8v-10"/>
<path d="M206.9 319.7v5 M206.9 621.8v-5"/>
<path d="M267.8 319.7v10 M267.8 621.8v-10"/>
<path d="M328.8 319.7v5 M328.8 621.8v-5"/>
<path d="M389.7 319.7v10 M389.7 621.8v-10"/>
<path d="M450.6 319.7v5 M450.6 621.8v-5"/>
<path d="M511.6 319.7v10 M511.6 621.8v-10"/>
<path d="M572.5 319.7v5 M572.5 621.8v-5"/>
<path d="M633.5 319.7v10 M633.5 621.8v-10"/>
<path d="M85.0 607.1h5 M694.4 607.1h-5"/>
<path d="M85.0 592.3h5 M694.4 592.3h-5"/>
<path d="M85.0 577.6h5 M694.4 577.6h-5"/>
<path d="M85.0 562.8h5 M694.4 562.8h-5"/>
<path d="M85.0 548.1h10 M694.4 548.1h-10"/>
<path d="M85.0 533.4h5 M694.4 533.4h-5"/>
<path d="M85.0 518.6h5 M694.4 518.6h-5"/>
<path d="M85.0 503.9h5 M694.4 503.9h-5"/>
<path d="M85.0 489.1h5 M694.4 489.1h-5"/>
<path d="M85.0 474.4h10 M694.4 474.4h-10"/>
<path d="M85.0 459.7h5 M694.4 459.7h-5"/>
<path d="M85.0 444.9h5 M694.4 444.9h-5"/>
<path d="M85.0 430.2h5 M694.4 430.2h-5"/>
<path d="M85.0 415.4h5 M694.4 415.4h-5"/>
<path d="M85.0 400.7h10 M694.4 400.7h-10"/>
<path d="M85.0 386.0h5 M694.4 386.0h-5"/>
<path d="M85.0 371.2h5 M694.4 371.2h-5"/>
<path d="M85.0 356.5h5 M694.4 356.5h-5"/>
<path d="M85.0 341.7h5 M694.4 341.7h-5"/>
<path d="M85.0 327.0h10 M694.4 327.0h-10"/>
</g>
<g font-size="22.2" text-anchor="end">
<text x="69.2" y="312.5">0</text>
<text x="69.2" y="238.8">1</text>
<text x="69.2" y="165.1">2</text>
<text x="69.2" y="91.4">3</text>
<text x="69.2" y="17.7">4</text>
<text x="69.2" y="629.7">0</text>
<text x="69.2" y="556.0">1</text>
<text x="69.2" y="482.3">2</text>
<text x="69.2" y="408.6">3</text>
<text x="69.2" y="334.9">4</text>
</g>
<g font-size="22.3" text-anchor="middle">
<text x="146.5" y="649.8">−40</text>
<text x="268.4" y="649.8">−20</text>
<text x="390.3" y="649.8">0</text>
<text x="512.2" y="649.8">20</text>
<text x="634.1" y="649.8">40</text>
</g>
<text x="359.6" y="678.6" font-size="21.5">f</text>
<text x="367.6" y="686.7" font-size="17">t</text>
<text y="686.7"><tspan x="382.8" dy="1.3" font-size="20">(</tspan><tspan x="389.6" dy="-1.3" font-size="15.5">mHz</tspan><tspan x="426.8" dy="1.3" font-size="20">)</tspan></text>
<g transform="translate(0 159.4) rotate(-90)">
<text x="-36.4" y="17.6" font-size="21.5">f</text>
<text x="-19.5" y="26.3" font-size="16.5" font-style="italic">ν</text>
<text y="26"><tspan x="-1.5" dy="1.3" font-size="20">(</tspan><tspan x="5.4" dy="-1.3" font-size="15.5"><tspan font-style="italic">μ</tspan>s</tspan><tspan x="25" dy="1.3" font-size="20">)</tspan></text>
</g>
<g transform="translate(0 476.6) rotate(-90)">
<text x="-36.4" y="17.6" font-size="21.5">f</text>
<text x="-19.5" y="26.3" font-size="16.5" font-style="italic">ν</text>
<text y="26"><tspan x="-1.5" dy="1.3" font-size="20">(</tspan><tspan x="5.4" dy="-1.3" font-size="15.5"><tspan font-style="italic">μ</tspan>s</tspan><tspan x="25" dy="1.3" font-size="20">)</tspan></text>
</g>
</svg></body></html>
